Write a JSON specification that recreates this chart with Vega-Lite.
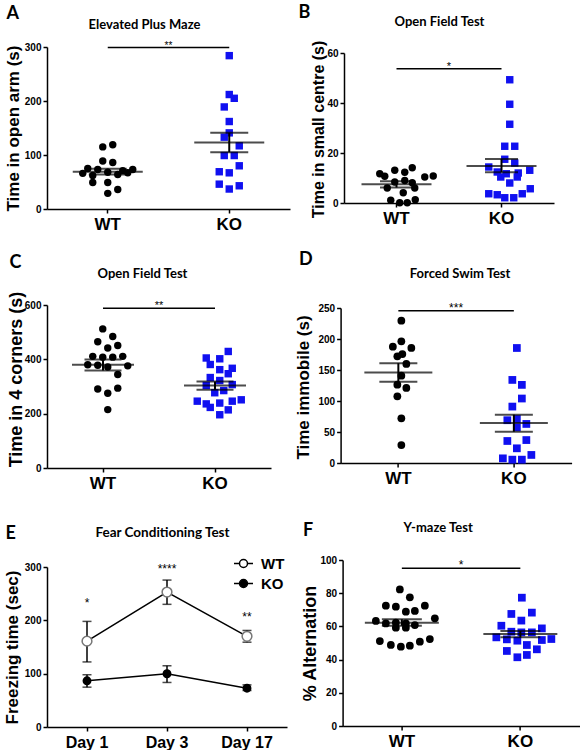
{
  "$schema": "https://vega.github.io/schema/vega-lite/v6.json",
  "padding": {"left": 3, "top": 3, "right": 0, "bottom": 0},
  "background": "white",
  "config": {
    "view": {"stroke": null},
    "font": "Liberation Sans",
    "axis": {
      "grid": false, "domainColor": "black", "domainWidth": 1.5, "tickColor": "black", "tickWidth": 1.5, "tickSize": 4,
      "labelColor": "black", "titleColor": "black", "labelFont": "Liberation Sans", "titleFont": "Liberation Sans",
      "labelFontWeight": "bold", "titleFontWeight": "bold", "labelFontSize": 10, "titleFontSize": 17, "labelPadding": 2,
      "labelOverlap": false
    }
  },
  "resolve": {"legend": {"fill": "independent"}},
  "datasets": {
    "pts": [
      {"panel":"A","group":"WT","value":119,"slot":1},{"panel":"A","group":"WT","value":115,"slot":-1},
      {"panel":"A","group":"WT","value":89,"slot":-1},{"panel":"A","group":"WT","value":86,"slot":1},
      {"panel":"A","group":"WT","value":66,"slot":-5},{"panel":"A","group":"WT","value":75,"slot":-4},
      {"panel":"A","group":"WT","value":73,"slot":-2},{"panel":"A","group":"WT","value":62,"slot":-3},
      {"panel":"A","group":"WT","value":68,"slot":0},{"panel":"A","group":"WT","value":64,"slot":2},
      {"panel":"A","group":"WT","value":71,"slot":3},{"panel":"A","group":"WT","value":67,"slot":4},
      {"panel":"A","group":"WT","value":73,"slot":5},{"panel":"A","group":"WT","value":49,"slot":-3},
      {"panel":"A","group":"WT","value":49,"slot":0},{"panel":"A","group":"WT","value":36,"slot":2},
      {"panel":"A","group":"WT","value":29,"slot":0},
      {"panel":"A","group":"KO","value":284,"slot":0},{"panel":"A","group":"KO","value":212,"slot":0},
      {"panel":"A","group":"KO","value":205,"slot":1},{"panel":"A","group":"KO","value":189,"slot":-1},
      {"panel":"A","group":"KO","value":162,"slot":0},{"panel":"A","group":"KO","value":141,"slot":0},
      {"panel":"A","group":"KO","value":133,"slot":-1},{"panel":"A","group":"KO","value":117,"slot":2},
      {"panel":"A","group":"KO","value":99,"slot":-1},{"panel":"A","group":"KO","value":99,"slot":1},
      {"panel":"A","group":"KO","value":80,"slot":2},{"panel":"A","group":"KO","value":69,"slot":-2},
      {"panel":"A","group":"KO","value":67,"slot":0},{"panel":"A","group":"KO","value":46,"slot":-2},
      {"panel":"A","group":"KO","value":43,"slot":2},{"panel":"A","group":"KO","value":37,"slot":0},

      {"panel":"B","group":"WT","value":11.7,"slot":-5},{"panel":"B","group":"WT","value":10.7,"slot":-4},
      {"panel":"B","group":"WT","value":13.1,"slot":-2},{"panel":"B","group":"WT","value":12.3,"slot":0},
      {"panel":"B","group":"WT","value":14.1,"slot":1.5},{"panel":"B","group":"WT","value":10.4,"slot":4},
      {"panel":"B","group":"WT","value":10.8,"slot":5.7},{"panel":"B","group":"WT","value":8.4,"slot":-2},
      {"panel":"B","group":"WT","value":9,"slot":0},{"panel":"B","group":"WT","value":8.1,"slot":1.5},
      {"panel":"B","group":"WT","value":6,"slot":-3.5},{"panel":"B","group":"WT","value":4.1,"slot":-0.3},
      {"panel":"B","group":"WT","value":6,"slot":2},{"panel":"B","group":"WT","value":1.1,"slot":-2.8},
      {"panel":"B","group":"WT","value":0.1,"slot":-1},{"panel":"B","group":"WT","value":0.1,"slot":0.5},
      {"panel":"B","group":"WT","value":1.3,"slot":2.1},
      {"panel":"B","group":"KO","value":49.3,"slot":0},{"panel":"B","group":"KO","value":39.5,"slot":0},
      {"panel":"B","group":"KO","value":31.5,"slot":0},{"panel":"B","group":"KO","value":22.7,"slot":-1},
      {"panel":"B","group":"KO","value":22.7,"slot":1},{"panel":"B","group":"KO","value":17.5,"slot":-1},
      {"panel":"B","group":"KO","value":16,"slot":1},{"panel":"B","group":"KO","value":14.4,"slot":-4.2},
      {"panel":"B","group":"KO","value":12.4,"slot":-2.5},{"panel":"B","group":"KO","value":11.7,"slot":-0.7},
      {"panel":"B","group":"KO","value":12,"slot":1.7},{"panel":"B","group":"KO","value":13.1,"slot":4},
      {"panel":"B","group":"KO","value":10.4,"slot":-1.8},{"panel":"B","group":"KO","value":10.4,"slot":1.5},
      {"panel":"B","group":"KO","value":8,"slot":0},{"panel":"B","group":"KO","value":5.7,"slot":4.1},
      {"panel":"B","group":"KO","value":3.7,"slot":-4.2},{"panel":"B","group":"KO","value":3.3,"slot":-2.5},
      {"panel":"B","group":"KO","value":2.1,"slot":-1},{"panel":"B","group":"KO","value":2.1,"slot":0.8},
      {"panel":"B","group":"KO","value":3.7,"slot":2.5},

      {"panel":"C","group":"WT","value":512,"slot":-1},{"panel":"C","group":"WT","value":484,"slot":1},
      {"panel":"C","group":"WT","value":465,"slot":-2},{"panel":"C","group":"WT","value":451,"slot":2},
      {"panel":"C","group":"WT","value":442,"slot":0},{"panel":"C","group":"WT","value":411,"slot":-3},
      {"panel":"C","group":"WT","value":408,"slot":-1},{"panel":"C","group":"WT","value":408,"slot":1},
      {"panel":"C","group":"WT","value":411,"slot":3},{"panel":"C","group":"WT","value":380,"slot":-4},
      {"panel":"C","group":"WT","value":378,"slot":-2},{"panel":"C","group":"WT","value":372,"slot":0},
      {"panel":"C","group":"WT","value":376,"slot":4},{"panel":"C","group":"WT","value":344,"slot":2},
      {"panel":"C","group":"WT","value":291,"slot":-2},{"panel":"C","group":"WT","value":294,"slot":2},
      {"panel":"C","group":"WT","value":275,"slot":0},{"panel":"C","group":"WT","value":215,"slot":0},
      {"panel":"C","group":"KO","value":429,"slot":1.7},{"panel":"C","group":"KO","value":405,"slot":-2.7},
      {"panel":"C","group":"KO","value":402,"slot":0},{"panel":"C","group":"KO","value":381,"slot":-1.9},
      {"panel":"C","group":"KO","value":362,"slot":0},{"panel":"C","group":"KO","value":367,"slot":2.5},
      {"panel":"C","group":"KO","value":347,"slot":1.7},{"panel":"C","group":"KO","value":333,"slot":-1.9},
      {"panel":"C","group":"KO","value":304,"slot":-2.7},{"panel":"C","group":"KO","value":322,"slot":0},
      {"panel":"C","group":"KO","value":307,"slot":2.5},{"panel":"C","group":"KO","value":277,"slot":-1},
      {"panel":"C","group":"KO","value":285,"slot":0.8},{"panel":"C","group":"KO","value":246,"slot":-4.5},
      {"panel":"C","group":"KO","value":236,"slot":-2.7},{"panel":"C","group":"KO","value":239,"slot":0},
      {"panel":"C","group":"KO","value":246,"slot":2.5},{"panel":"C","group":"KO","value":251,"slot":4.3},
      {"panel":"C","group":"KO","value":223,"slot":-1.9},{"panel":"C","group":"KO","value":214,"slot":1.7},
      {"panel":"C","group":"KO","value":196,"slot":0},

      {"panel":"D","group":"WT","value":229.6,"slot":0},{"panel":"D","group":"WT","value":187.6,"slot":-1.7},
      {"panel":"D","group":"WT","value":196.2,"slot":0},{"panel":"D","group":"WT","value":185.5,"slot":2},
      {"panel":"D","group":"WT","value":172,"slot":-0.8},{"panel":"D","group":"WT","value":175.8,"slot":0.2},
      {"panel":"D","group":"WT","value":159.7,"slot":1},{"panel":"D","group":"WT","value":140.9,"slot":0},
      {"panel":"D","group":"WT","value":126.3,"slot":-0.8},{"panel":"D","group":"WT","value":121,"slot":1},
      {"panel":"D","group":"WT","value":107.5,"slot":-0.8},{"panel":"D","group":"WT","value":72,"slot":0},
      {"panel":"D","group":"WT","value":29,"slot":0},
      {"panel":"D","group":"KO","value":185.5,"slot":0},{"panel":"D","group":"KO","value":134,"slot":-0.9},
      {"panel":"D","group":"KO","value":126,"slot":1},{"panel":"D","group":"KO","value":104,"slot":1},
      {"panel":"D","group":"KO","value":91,"slot":-0.9},{"panel":"D","group":"KO","value":69,"slot":-1.9},
      {"panel":"D","group":"KO","value":71,"slot":0},{"panel":"D","group":"KO","value":57.5,"slot":0},
      {"panel":"D","group":"KO","value":63,"slot":1.9},{"panel":"D","group":"KO","value":35.5,"slot":-1.9},
      {"panel":"D","group":"KO","value":37,"slot":1.9},{"panel":"D","group":"KO","value":23.7,"slot":0},
      {"panel":"D","group":"KO","value":13,"slot":2.9},{"panel":"D","group":"KO","value":7.5,"slot":-2.8},
      {"panel":"D","group":"KO","value":5.4,"slot":-0.9},{"panel":"D","group":"KO","value":5.4,"slot":1},

      {"panel":"F","group":"WT","value":82.3,"slot":-0.7},{"panel":"F","group":"WT","value":77.5,"slot":1.3},
      {"panel":"F","group":"WT","value":72.5,"slot":-3.5},{"panel":"F","group":"WT","value":71.9,"slot":-1.5},
      {"panel":"F","group":"WT","value":68.9,"slot":0.5},{"panel":"F","group":"WT","value":69.3,"slot":2.3},
      {"panel":"F","group":"WT","value":72.5,"slot":4.3},{"panel":"F","group":"WT","value":63.3,"slot":-5.5},
      {"panel":"F","group":"WT","value":61.8,"slot":-3.5},{"panel":"F","group":"WT","value":62.2,"slot":-1.5},
      {"panel":"F","group":"WT","value":61.8,"slot":0.5},{"panel":"F","group":"WT","value":60.8,"slot":2.3},
      {"panel":"F","group":"WT","value":64.9,"slot":6.3},{"panel":"F","group":"WT","value":59.2,"slot":-1.5},
      {"panel":"F","group":"WT","value":59.2,"slot":0.5},{"panel":"F","group":"WT","value":51.2,"slot":-4.7},
      {"panel":"F","group":"WT","value":48.8,"slot":-2.5},{"panel":"F","group":"WT","value":47.8,"slot":-0.5},
      {"panel":"F","group":"WT","value":48.4,"slot":1.3},{"panel":"F","group":"WT","value":50.8,"slot":3.3},
      {"panel":"F","group":"WT","value":52.4,"slot":5.3},
      {"panel":"F","group":"KO","value":77.3,"slot":0},{"panel":"F","group":"KO","value":67.5,"slot":-2.1},
      {"panel":"F","group":"KO","value":68.3,"slot":2},{"panel":"F","group":"KO","value":63.5,"slot":-0.1},
      {"panel":"F","group":"KO","value":60.4,"slot":-4.1},{"panel":"F","group":"KO","value":56.8,"slot":-2.1},
      {"panel":"F","group":"KO","value":56.4,"slot":-0.1},{"panel":"F","group":"KO","value":56.4,"slot":2},
      {"panel":"F","group":"KO","value":58.8,"slot":4},{"panel":"F","group":"KO","value":53.4,"slot":-5.1},
      {"panel":"F","group":"KO","value":52.2,"slot":-3},{"panel":"F","group":"KO","value":51.4,"slot":-0.9},
      {"panel":"F","group":"KO","value":51.8,"slot":4},{"panel":"F","group":"KO","value":52.4,"slot":5.9},
      {"panel":"F","group":"KO","value":48.8,"slot":1},{"panel":"F","group":"KO","value":45.2,"slot":-3},
      {"panel":"F","group":"KO","value":46.2,"slot":3},{"panel":"F","group":"KO","value":41.4,"slot":-0.9},
      {"panel":"F","group":"KO","value":42.8,"slot":1}
    ],
    "sum": [
      {"panel":"A","group":"WT","value":69,"lo":64,"hi":74.5},{"panel":"A","group":"KO","value":123,"lo":105,"hi":141},
      {"panel":"B","group":"WT","value":7.5,"lo":6.2,"hi":8.7},{"panel":"B","group":"KO","value":14.8,"lo":12.3,"hi":17.6},
      {"panel":"C","group":"WT","value":380,"lo":359,"hi":399},{"panel":"C","group":"KO","value":304,"lo":288,"hi":318},
      {"panel":"D","group":"WT","value":146,"lo":131,"hi":161},{"panel":"D","group":"KO","value":64.5,"lo":50.5,"hi":78},
      {"panel":"F","group":"WT","value":62.2,"lo":60.4,"hi":64.3},{"panel":"F","group":"KO","value":55.4,"lo":53.4,"hi":57.2}
    ],
    "sig": [
      {"panel":"A","g1":"WT","g2":"KO","value":299,"label":"**"},
      {"panel":"B","g1":"WT","g2":"KO","value":53.7,"label":"*"},
      {"panel":"C","g1":"WT","g2":"KO","value":588,"label":"**"},
      {"panel":"D","g1":"WT","g2":"KO","value":245.7,"label":"***"},
      {"panel":"F","g1":"WT","g2":"KO","value":95,"label":"*"}
    ],
    "fear": [
      {"day":"Day 1","group":"WT","value":161,"lo":122,"hi":198},
      {"day":"Day 3","group":"WT","value":253,"lo":230,"hi":275.5},
      {"day":"Day 17","group":"WT","value":170,"lo":159,"hi":181},
      {"day":"Day 1","group":"KO","value":86.6,"lo":74.7,"hi":98},
      {"day":"Day 3","group":"KO","value":99.8,"lo":83.5,"hi":114.8},
      {"day":"Day 17","group":"KO","value":72.8,"lo":68.4,"hi":79}
    ],
    "fsig": [
      {"day":"Day 1","value":239,"label":"*"},
      {"day":"Day 3","value":302,"label":"****"},
      {"day":"Day 17","value":211,"label":"**"}
    ]
  },
  "spacing": 18,
  "vconcat": [
    {
      "spacing": 8,
      "hconcat": [
        {
          "width": 243, "height": 162,
          "resolve": {"axis": {"x": "independent"}},
          "layer": [
            {"data": {"name": "pts"}, "transform": [{"filter": {"field": "panel", "equal": "A"}}],
             "mark": {"type": "point", "filled": true, "size": 55, "opacity": 1},
             "encoding": {
               "x": {"field": "group", "type": "nominal", "scale": {"domain": ["WT","KO"], "paddingInner": 0, "paddingOuter": 0}, "axis": {"title": null, "labelAngle": 0, "labelFontSize": 17, "labelPadding": 3}},
               "xOffset": {"field": "slot", "type": "quantitative", "scale": {"domain": [-12.15, 12.15], "nice": false, "zero": false}},
               "y": {"field": "value", "type": "quantitative", "scale": {"domain": [0, 300]}, "axis": {"title": "Time in open arm (s)", "values": [0,100,200,300], "labelOverlap": false, "titleFontSize": 17, "titleX": -29, "titleBaseline": "alphabetic"}},
               "shape": {"field": "group", "type": "nominal", "scale": {"domain": ["WT","KO"], "range": ["circle","square"]}, "legend": null},
               "color": {"field": "group", "type": "nominal", "scale": {"domain": ["WT","KO"], "range": ["#000000","#1010f0"]}, "legend": null}
             }},
            {"data": {"name": "sum"}, "transform": [{"filter": {"field": "panel", "equal": "A"}}],
             "mark": {"type": "tick", "color": "black", "thickness": 2, "size": 70},
             "encoding": {"x": {"field": "group", "type": "nominal", "scale": {"domain": ["WT","KO"], "paddingInner": 0, "paddingOuter": 0}, "axis": null},
                          "y": {"field": "value", "type": "quantitative", "scale": {"domain": [0, 300]}}}},
            {"data": {"name": "sum"}, "transform": [{"filter": {"field": "panel", "equal": "A"}}],
             "mark": {"type": "rule", "color": "black", "strokeWidth": 2},
             "encoding": {"x": {"field": "group", "type": "nominal", "scale": {"domain": ["WT","KO"], "paddingInner": 0, "paddingOuter": 0}, "axis": null},
                          "y": {"field": "lo", "type": "quantitative", "scale": {"domain": [0, 300]}}, "y2": {"field": "hi"}}},
            {"data": {"name": "sum"}, "transform": [{"filter": {"field": "panel", "equal": "A"}}],
             "mark": {"type": "tick", "color": "black", "thickness": 2, "size": 38},
             "encoding": {"x": {"field": "group", "type": "nominal", "scale": {"domain": ["WT","KO"], "paddingInner": 0, "paddingOuter": 0}, "axis": null},
                          "y": {"field": "lo", "type": "quantitative", "scale": {"domain": [0, 300]}}}},
            {"data": {"name": "sum"}, "transform": [{"filter": {"field": "panel", "equal": "A"}}],
             "mark": {"type": "tick", "color": "black", "thickness": 2, "size": 38},
             "encoding": {"x": {"field": "group", "type": "nominal", "scale": {"domain": ["WT","KO"], "paddingInner": 0, "paddingOuter": 0}, "axis": null},
                          "y": {"field": "hi", "type": "quantitative", "scale": {"domain": [0, 300]}}}},
            {"data": {"name": "sig"}, "transform": [{"filter": {"field": "panel", "equal": "A"}}],
             "mark": {"type": "rule", "color": "black", "strokeWidth": 1.5},
             "encoding": {"x": {"field": "g1", "type": "nominal", "scale": {"domain": ["WT","KO"], "paddingInner": 0, "paddingOuter": 0},
                                "axis": {"orient": "top", "title": "A", "domain": false, "ticks": false, "labels": false, "titleFont": "Lato", "titleFontSize": 18, "titleAngle": 0, "titleAlign": "left", "titleBaseline": "alphabetic", "titleX": -41, "titleY": -29}},
                          "x2": {"field": "g2"},
                          "y": {"field": "value", "type": "quantitative", "scale": {"domain": [0, 300]}}}},
            {"data": {"name": "sig"}, "transform": [{"filter": {"field": "panel", "equal": "A"}}],
             "mark": {"type": "text", "fontSize": 10, "baseline": "alphabetic", "dy": 1, "color": "black"},
             "encoding": {"x": {"field": "g2", "type": "nominal", "bandPosition": 0, "scale": {"domain": ["WT","KO"], "paddingInner": 0, "paddingOuter": 0},
                                "axis": {"orient": "top", "title": "Elevated Plus Maze", "domain": false, "ticks": false, "labels": false, "titleFont": "Lato", "titleFontSize": 13, "titleAngle": 0, "titleAlign": "center", "titleBaseline": "alphabetic", "titleX": 97, "titleY": -19}},
                          "y": {"field": "value", "type": "quantitative", "scale": {"domain": [0, 300]}},
                          "text": {"field": "label"}}}
          ]
        },
        {
          "width": 210, "height": 156,
          "resolve": {"axis": {"x": "independent"}},
          "layer": [
            {"data": {"name": "pts"}, "transform": [{"filter": {"field": "panel", "equal": "B"}}],
             "mark": {"type": "point", "filled": true, "size": 55, "opacity": 1},
             "encoding": {
               "x": {"field": "group", "type": "nominal", "scale": {"domain": ["WT","KO"], "paddingInner": 0, "paddingOuter": 0}, "axis": {"title": null, "labelAngle": 0, "labelFontSize": 17, "labelPadding": 3}},
               "xOffset": {"field": "slot", "type": "quantitative", "scale": {"domain": [-10.5, 10.5], "nice": false, "zero": false}},
               "y": {"field": "value", "type": "quantitative", "scale": {"domain": [0, 60], "range": [156, 6]}, "axis": {"title": "Time in small centre (s)", "values": [0,20,40,60], "labelOverlap": false, "titleFontSize": 16, "titleX": -21, "titleY": 82, "titleBaseline": "alphabetic"}},
               "shape": {"field": "group", "type": "nominal", "scale": {"domain": ["WT","KO"], "range": ["circle","square"]}, "legend": null},
               "color": {"field": "group", "type": "nominal", "scale": {"domain": ["WT","KO"], "range": ["#000000","#1010f0"]}, "legend": null}
             }},
            {"data": {"name": "sum"}, "transform": [{"filter": {"field": "panel", "equal": "B"}}],
             "mark": {"type": "tick", "color": "black", "thickness": 2, "size": 70},
             "encoding": {"x": {"field": "group", "type": "nominal", "scale": {"domain": ["WT","KO"], "paddingInner": 0, "paddingOuter": 0}, "axis": null},
                          "y": {"field": "value", "type": "quantitative", "scale": {"domain": [0, 60], "range": [156, 6]}}}},
            {"data": {"name": "sum"}, "transform": [{"filter": {"field": "panel", "equal": "B"}}],
             "mark": {"type": "rule", "color": "black", "strokeWidth": 2},
             "encoding": {"x": {"field": "group", "type": "nominal", "scale": {"domain": ["WT","KO"], "paddingInner": 0, "paddingOuter": 0}, "axis": null},
                          "y": {"field": "lo", "type": "quantitative", "scale": {"domain": [0, 60], "range": [156, 6]}}, "y2": {"field": "hi"}}},
            {"data": {"name": "sum"}, "transform": [{"filter": {"field": "panel", "equal": "B"}}],
             "mark": {"type": "tick", "color": "black", "thickness": 2, "size": 33},
             "encoding": {"x": {"field": "group", "type": "nominal", "scale": {"domain": ["WT","KO"], "paddingInner": 0, "paddingOuter": 0}, "axis": null},
                          "y": {"field": "lo", "type": "quantitative", "scale": {"domain": [0, 60], "range": [156, 6]}}}},
            {"data": {"name": "sum"}, "transform": [{"filter": {"field": "panel", "equal": "B"}}],
             "mark": {"type": "tick", "color": "black", "thickness": 2, "size": 33},
             "encoding": {"x": {"field": "group", "type": "nominal", "scale": {"domain": ["WT","KO"], "paddingInner": 0, "paddingOuter": 0}, "axis": null},
                          "y": {"field": "hi", "type": "quantitative", "scale": {"domain": [0, 60], "range": [156, 6]}}}},
            {"data": {"name": "sig"}, "transform": [{"filter": {"field": "panel", "equal": "B"}}],
             "mark": {"type": "rule", "color": "black", "strokeWidth": 1.5},
             "encoding": {"x": {"field": "g1", "type": "nominal", "scale": {"domain": ["WT","KO"], "paddingInner": 0, "paddingOuter": 0},
                                "axis": {"orient": "top", "title": "B", "domain": false, "ticks": false, "labels": false, "titleFont": "Lato", "titleFontSize": 18, "titleAngle": 0, "titleAlign": "left", "titleBaseline": "alphabetic", "titleX": -46, "titleY": -30}},
                          "x2": {"field": "g2"},
                          "y": {"field": "value", "type": "quantitative", "scale": {"domain": [0, 60], "range": [156, 6]}}}},
            {"data": {"name": "sig"}, "transform": [{"filter": {"field": "panel", "equal": "B"}}],
             "mark": {"type": "text", "fontSize": 11, "baseline": "alphabetic", "dy": 1, "color": "black"},
             "encoding": {"x": {"field": "g2", "type": "nominal", "bandPosition": 0, "scale": {"domain": ["WT","KO"], "paddingInner": 0, "paddingOuter": 0},
                                "axis": {"orient": "top", "title": "Open Field Test", "domain": false, "ticks": false, "labels": false, "titleFont": "Lato", "titleFontSize": 13, "titleAngle": 0, "titleAlign": "center", "titleBaseline": "alphabetic", "titleX": 95, "titleY": -22}},
                          "y": {"field": "value", "type": "quantitative", "scale": {"domain": [0, 60], "range": [156, 6]}},
                          "text": {"field": "label"}}}
          ]
        }
      ]
    },
    {
      "spacing": 30,
      "resolve": {"legend": {"fill": "independent"}},
      "vconcat": [
        {
          "spacing": 23.6,
          "hconcat": [
            {
              "width": 224, "height": 163,
              "resolve": {"axis": {"x": "independent"}},
              "layer": [
                {"data": {"name": "pts"}, "transform": [{"filter": {"field": "panel", "equal": "C"}}],
                 "mark": {"type": "point", "filled": true, "size": 55, "opacity": 1},
                 "encoding": {
                   "x": {"field": "group", "type": "nominal", "scale": {"domain": ["WT","KO"], "paddingInner": 0, "paddingOuter": 0}, "axis": {"title": null, "labelAngle": 0, "labelFontSize": 17, "labelPadding": 3}},
                   "xOffset": {"field": "slot", "type": "quantitative", "scale": {"domain": [-11.2, 11.2], "nice": false, "zero": false}},
                   "y": {"field": "value", "type": "quantitative", "scale": {"domain": [0, 600]}, "axis": {"title": "Time in 4 corners (s)", "values": [0,200,400,600], "labelOverlap": false, "titleFontSize": 18, "titleX": -26, "titleY": 74, "titleBaseline": "alphabetic"}},
                   "shape": {"field": "group", "type": "nominal", "scale": {"domain": ["WT","KO"], "range": ["circle","square"]}, "legend": null},
                   "color": {"field": "group", "type": "nominal", "scale": {"domain": ["WT","KO"], "range": ["#000000","#1010f0"]}, "legend": null}
                 }},
                {"data": {"name": "sum"}, "transform": [{"filter": {"field": "panel", "equal": "C"}}],
                 "mark": {"type": "tick", "color": "black", "thickness": 2, "size": 62},
                 "encoding": {"x": {"field": "group", "type": "nominal", "scale": {"domain": ["WT","KO"], "paddingInner": 0, "paddingOuter": 0}, "axis": null},
                              "y": {"field": "value", "type": "quantitative", "scale": {"domain": [0, 600]}}}},
                {"data": {"name": "sum"}, "transform": [{"filter": {"field": "panel", "equal": "C"}}],
                 "mark": {"type": "rule", "color": "black", "strokeWidth": 2},
                 "encoding": {"x": {"field": "group", "type": "nominal", "scale": {"domain": ["WT","KO"], "paddingInner": 0, "paddingOuter": 0}, "axis": null},
                              "y": {"field": "lo", "type": "quantitative", "scale": {"domain": [0, 600]}}, "y2": {"field": "hi"}}},
                {"data": {"name": "sum"}, "transform": [{"filter": {"field": "panel", "equal": "C"}}],
                 "mark": {"type": "tick", "color": "black", "thickness": 2, "size": 37},
                 "encoding": {"x": {"field": "group", "type": "nominal", "scale": {"domain": ["WT","KO"], "paddingInner": 0, "paddingOuter": 0}, "axis": null},
                              "y": {"field": "lo", "type": "quantitative", "scale": {"domain": [0, 600]}}}},
                {"data": {"name": "sum"}, "transform": [{"filter": {"field": "panel", "equal": "C"}}],
                 "mark": {"type": "tick", "color": "black", "thickness": 2, "size": 37},
                 "encoding": {"x": {"field": "group", "type": "nominal", "scale": {"domain": ["WT","KO"], "paddingInner": 0, "paddingOuter": 0}, "axis": null},
                              "y": {"field": "hi", "type": "quantitative", "scale": {"domain": [0, 600]}}}},
                {"data": {"name": "sig"}, "transform": [{"filter": {"field": "panel", "equal": "C"}}],
                 "mark": {"type": "rule", "color": "black", "strokeWidth": 1.5},
                 "encoding": {"x": {"field": "g1", "type": "nominal", "scale": {"domain": ["WT","KO"], "paddingInner": 0, "paddingOuter": 0},
                                    "axis": {"orient": "top", "title": "C", "domain": false, "ticks": false, "labels": false, "titleFont": "Lato", "titleFontSize": 18, "titleAngle": 0, "titleAlign": "left", "titleBaseline": "alphabetic", "titleX": -38, "titleY": -38}},
                              "x2": {"field": "g2"},
                              "y": {"field": "value", "type": "quantitative", "scale": {"domain": [0, 600]}}}},
                {"data": {"name": "sig"}, "transform": [{"filter": {"field": "panel", "equal": "C"}}],
                 "mark": {"type": "text", "fontSize": 11, "baseline": "alphabetic", "dy": 1, "color": "black"},
                 "encoding": {"x": {"field": "g2", "type": "nominal", "bandPosition": 0, "scale": {"domain": ["WT","KO"], "paddingInner": 0, "paddingOuter": 0},
                                    "axis": {"orient": "top", "title": "Open Field Test", "domain": false, "ticks": false, "labels": false, "titleFont": "Lato", "titleFontSize": 13, "titleAngle": 0, "titleAlign": "center", "titleBaseline": "alphabetic", "titleX": 95, "titleY": -28}},
                              "y": {"field": "value", "type": "quantitative", "scale": {"domain": [0, 600]}},
                              "text": {"field": "label"}}}
              ]
            },
            {
              "width": 231, "height": 158,
              "resolve": {"axis": {"x": "independent"}},
              "layer": [
                {"data": {"name": "pts"}, "transform": [{"filter": {"field": "panel", "equal": "D"}}],
                 "mark": {"type": "point", "filled": true, "size": 60, "opacity": 1},
                 "encoding": {
                   "x": {"field": "group", "type": "nominal", "scale": {"domain": ["WT","KO"], "paddingInner": 0, "paddingOuter": 0}, "axis": {"title": null, "labelAngle": 0, "labelFontSize": 17, "labelPadding": 3}},
                   "xOffset": {"field": "slot", "type": "quantitative", "scale": {"domain": [-11.55, 11.55], "nice": false, "zero": false}},
                   "y": {"field": "value", "type": "quantitative", "scale": {"domain": [0, 250], "range": [158, 3]}, "axis": {"title": "Time immobile (s)", "values": [0,50,100,150,200,250], "labelOverlap": false, "titleFontSize": 17, "titleX": -32, "titleY": 82, "titleBaseline": "alphabetic"}},
                   "shape": {"field": "group", "type": "nominal", "scale": {"domain": ["WT","KO"], "range": ["circle","square"]}, "legend": null},
                   "color": {"field": "group", "type": "nominal", "scale": {"domain": ["WT","KO"], "range": ["#000000","#1010f0"]}, "legend": null}
                 }},
                {"data": {"name": "sum"}, "transform": [{"filter": {"field": "panel", "equal": "D"}}],
                 "mark": {"type": "tick", "color": "black", "thickness": 2, "size": 68},
                 "encoding": {"x": {"field": "group", "type": "nominal", "scale": {"domain": ["WT","KO"], "paddingInner": 0, "paddingOuter": 0}, "axis": null},
                              "y": {"field": "value", "type": "quantitative", "scale": {"domain": [0, 250], "range": [158, 3]}, "axis": {"title": "Time immobile (s)", "values": [0,50,100,150,200,250], "labelOverlap": false, "titleFontSize": 17, "titleX": -32, "titleY": 82, "titleBaseline": "alphabetic"}}}},
                {"data": {"name": "sum"}, "transform": [{"filter": {"field": "panel", "equal": "D"}}],
                 "mark": {"type": "rule", "color": "black", "strokeWidth": 2},
                 "encoding": {"x": {"field": "group", "type": "nominal", "scale": {"domain": ["WT","KO"], "paddingInner": 0, "paddingOuter": 0}, "axis": null},
                              "y": {"field": "lo", "type": "quantitative", "scale": {"domain": [0, 250], "range": [158, 3]}, "axis": {"title": "Time immobile (s)", "values": [0,50,100,150,200,250], "labelOverlap": false, "titleFontSize": 17, "titleX": -32, "titleY": 82, "titleBaseline": "alphabetic"}}, "y2": {"field": "hi"}}},
                {"data": {"name": "sum"}, "transform": [{"filter": {"field": "panel", "equal": "D"}}],
                 "mark": {"type": "tick", "color": "black", "thickness": 2, "size": 38},
                 "encoding": {"x": {"field": "group", "type": "nominal", "scale": {"domain": ["WT","KO"], "paddingInner": 0, "paddingOuter": 0}, "axis": null},
                              "y": {"field": "lo", "type": "quantitative", "scale": {"domain": [0, 250], "range": [158, 3]}, "axis": {"title": "Time immobile (s)", "values": [0,50,100,150,200,250], "labelOverlap": false, "titleFontSize": 17, "titleX": -32, "titleY": 82, "titleBaseline": "alphabetic"}}}},
                {"data": {"name": "sum"}, "transform": [{"filter": {"field": "panel", "equal": "D"}}],
                 "mark": {"type": "tick", "color": "black", "thickness": 2, "size": 38},
                 "encoding": {"x": {"field": "group", "type": "nominal", "scale": {"domain": ["WT","KO"], "paddingInner": 0, "paddingOuter": 0}, "axis": null},
                              "y": {"field": "hi", "type": "quantitative", "scale": {"domain": [0, 250], "range": [158, 3]}, "axis": {"title": "Time immobile (s)", "values": [0,50,100,150,200,250], "labelOverlap": false, "titleFontSize": 17, "titleX": -32, "titleY": 82, "titleBaseline": "alphabetic"}}}},
                {"data": {"name": "sig"}, "transform": [{"filter": {"field": "panel", "equal": "D"}}],
                 "mark": {"type": "rule", "color": "black", "strokeWidth": 1.5},
                 "encoding": {"x": {"field": "g1", "type": "nominal", "scale": {"domain": ["WT","KO"], "paddingInner": 0, "paddingOuter": 0},
                                    "axis": {"orient": "top", "title": "D", "domain": false, "ticks": false, "labels": false, "titleFont": "Lato", "titleFontSize": 18, "titleAngle": 0, "titleAlign": "left", "titleBaseline": "alphabetic", "titleX": -42, "titleY": -41}},
                              "x2": {"field": "g2"},
                              "y": {"field": "value", "type": "quantitative", "scale": {"domain": [0, 250], "range": [158, 3]}, "axis": {"title": "Time immobile (s)", "values": [0,50,100,150,200,250], "labelOverlap": false, "titleFontSize": 17, "titleX": -32, "titleY": 82, "titleBaseline": "alphabetic"}}}},
                {"data": {"name": "sig"}, "transform": [{"filter": {"field": "panel", "equal": "D"}}],
                 "mark": {"type": "text", "fontSize": 12, "baseline": "alphabetic", "dy": 1, "color": "black"},
                 "encoding": {"x": {"field": "g2", "type": "nominal", "bandPosition": 0, "scale": {"domain": ["WT","KO"], "paddingInner": 0, "paddingOuter": 0},
                                    "axis": {"orient": "top", "title": "Forced Swim Test", "domain": false, "ticks": false, "labels": false, "titleFont": "Lato", "titleFontSize": 13, "titleAngle": 0, "titleAlign": "center", "titleBaseline": "alphabetic", "titleX": 119, "titleY": -28}},
                              "y": {"field": "value", "type": "quantitative", "scale": {"domain": [0, 250], "range": [158, 3]}, "axis": {"title": "Time immobile (s)", "values": [0,50,100,150,200,250], "labelOverlap": false, "titleFontSize": 17, "titleX": -32, "titleY": 82, "titleBaseline": "alphabetic"}},
                              "text": {"field": "label"}}}
              ]
            }
          ]
        },
        {
          "spacing": 14.6,
          "resolve": {"legend": {"fill": "independent"}},
          "hconcat": [
            {
              "width": 240, "height": 167,
              "resolve": {"axis": {"x": "independent"}},
              "layer": [
                {"data": {"name": "fear"},
                 "mark": {"type": "line", "color": "black", "strokeWidth": 1.5},
                 "encoding": {
                   "x": {"field": "day", "type": "nominal", "scale": {"domain": ["Day 1","Day 3","Day 17"], "paddingInner": 0, "paddingOuter": 0}, "axis": {"title": null, "labelAngle": 0, "labelFontSize": 16, "labelPadding": 3}},
                   "y": {"field": "value", "type": "quantitative", "scale": {"domain": [0, 300], "range": [167, 7]}, "axis": {"title": "Freezing time (sec)", "values": [0,100,200,300], "labelOverlap": false, "titleFontSize": 17, "titleX": -30, "titleY": 87, "titleBaseline": "alphabetic"}},
                   "detail": {"field": "group", "type": "nominal"}
                 }},
                {"data": {"name": "fear"},
                 "mark": {"type": "rule", "color": "black", "strokeWidth": 1.5},
                 "encoding": {
                   "x": {"field": "day", "type": "nominal", "scale": {"domain": ["Day 1","Day 3","Day 17"], "paddingInner": 0, "paddingOuter": 0},
                         "axis": {"orient": "top", "title": "E", "domain": false, "ticks": false, "labels": false, "titleFont": "Lato", "titleFontSize": 18, "titleAngle": 0, "titleAlign": "left", "titleBaseline": "alphabetic", "titleX": -42, "titleY": -22}},
                   "y": {"field": "lo", "type": "quantitative", "scale": {"domain": [0, 300], "range": [167, 7]}}, "y2": {"field": "hi"},
                   "detail": {"field": "group", "type": "nominal"}
                 }},
                {"data": {"name": "fear"},
                 "mark": {"type": "tick", "color": "black", "thickness": 1.5, "size": 9},
                 "encoding": {
                   "x": {"field": "day", "type": "nominal", "scale": {"domain": ["Day 1","Day 3","Day 17"], "paddingInner": 0, "paddingOuter": 0}, "axis": null},
                   "y": {"field": "lo", "type": "quantitative", "scale": {"domain": [0, 300], "range": [167, 7]}}
                 }},
                {"data": {"name": "fear"},
                 "mark": {"type": "tick", "color": "black", "thickness": 1.5, "size": 9},
                 "encoding": {
                   "x": {"field": "day", "type": "nominal", "scale": {"domain": ["Day 1","Day 3","Day 17"], "paddingInner": 0, "paddingOuter": 0}, "axis": null},
                   "y": {"field": "hi", "type": "quantitative", "scale": {"domain": [0, 300], "range": [167, 7]}}
                 }},
                {"data": {"name": "fear"},
                 "mark": {"type": "point", "shape": "circle", "strokeWidth": 1.5, "opacity": 1, "fillOpacity": 1},
                 "encoding": {
                   "x": {"field": "day", "type": "nominal", "scale": {"domain": ["Day 1","Day 3","Day 17"], "paddingInner": 0, "paddingOuter": 0}, "axis": null},
                   "y": {"field": "value", "type": "quantitative", "scale": {"domain": [0, 300], "range": [167, 7]}},
                   "fill": {"field": "group", "type": "nominal", "scale": {"domain": ["WT","KO"], "range": ["#ffffff","#000000"]},
                            "legend": {"title": null, "orient": "none", "legendX": 186, "legendY": -7, "padding": 0,
                                       "symbolType": "M-1,0L-0.42,0M0.42,0L1,0M0.42,0A0.42,0.42,0,1,1,-0.42,0A0.42,0.42,0,1,1,0.42,0Z",
                                       "symbolSize": 361, "symbolStrokeColor": "black", "symbolStrokeWidth": 1.5, "symbolOpacity": 1,
                                       "labelFont": "Liberation Sans", "labelFontWeight": "bold", "labelFontSize": 15, "labelColor": "black",
                                       "labelOffset": 7, "rowPadding": 1}},
                   "stroke": {"field": "group", "type": "nominal", "scale": {"domain": ["WT","KO"], "range": ["#777777","#000000"]}, "legend": null},
                   "size": {"field": "group", "type": "nominal", "scale": {"domain": ["WT","KO"], "range": [95, 55]}, "legend": null}
                 }},
                {"data": {"name": "fsig"},
                 "mark": {"type": "text", "fontSize": 12, "baseline": "middle", "dy": 3, "color": "black"},
                 "encoding": {
                   "x": {"field": "day", "type": "nominal", "scale": {"domain": ["Day 1","Day 3","Day 17"], "paddingInner": 0, "paddingOuter": 0},
                         "axis": {"orient": "top", "title": "Fear Conditioning Test", "domain": false, "ticks": false, "labels": false, "titleFont": "Lato", "titleFontSize": 13.5, "titleAngle": 0, "titleAlign": "center", "titleBaseline": "alphabetic", "titleX": 115, "titleY": -24}},
                   "y": {"field": "value", "type": "quantitative", "scale": {"domain": [0, 300], "range": [167, 7]}},
                   "text": {"field": "label"}
                 }}
              ]
            },
            {
              "width": 237, "height": 166,
              "resolve": {"axis": {"x": "independent"}},
              "layer": [
                {"data": {"name": "pts"}, "transform": [{"filter": {"field": "panel", "equal": "F"}}],
                 "mark": {"type": "point", "filled": true, "size": 60, "opacity": 1},
                 "encoding": {
                   "x": {"field": "group", "type": "nominal", "scale": {"domain": ["WT","KO"], "paddingInner": 0, "paddingOuter": 0}, "axis": {"title": null, "labelAngle": 0, "labelFontSize": 17, "labelPadding": 3}},
                   "xOffset": {"field": "slot", "type": "quantitative", "scale": {"domain": [-11.85, 11.85], "nice": false, "zero": false}},
                   "y": {"field": "value", "type": "quantitative", "scale": {"domain": [0, 100]}, "axis": {"title": "% Alternation", "values": [0,20,40,60,80,100], "labelOverlap": false, "titleFontSize": 18, "titleX": -27, "titleBaseline": "alphabetic"}},
                   "shape": {"field": "group", "type": "nominal", "scale": {"domain": ["WT","KO"], "range": ["circle","square"]}, "legend": null},
                   "color": {"field": "group", "type": "nominal", "scale": {"domain": ["WT","KO"], "range": ["#000000","#1010f0"]}, "legend": null}
                 }},
                {"data": {"name": "sum"}, "transform": [{"filter": {"field": "panel", "equal": "F"}}],
                 "mark": {"type": "tick", "color": "black", "thickness": 2, "size": 74},
                 "encoding": {"x": {"field": "group", "type": "nominal", "scale": {"domain": ["WT","KO"], "paddingInner": 0, "paddingOuter": 0}, "axis": null},
                              "y": {"field": "value", "type": "quantitative", "scale": {"domain": [0, 100]}, "axis": {"title": "% Alternation", "values": [0,20,40,60,80,100], "labelOverlap": false, "titleFontSize": 18, "titleX": -27, "titleBaseline": "alphabetic"}}}},
                {"data": {"name": "sum"}, "transform": [{"filter": {"field": "panel", "equal": "F"}}],
                 "mark": {"type": "rule", "color": "black", "strokeWidth": 2},
                 "encoding": {"x": {"field": "group", "type": "nominal", "scale": {"domain": ["WT","KO"], "paddingInner": 0, "paddingOuter": 0}, "axis": null},
                              "y": {"field": "lo", "type": "quantitative", "scale": {"domain": [0, 100]}, "axis": {"title": "% Alternation", "values": [0,20,40,60,80,100], "labelOverlap": false, "titleFontSize": 18, "titleX": -27, "titleBaseline": "alphabetic"}}, "y2": {"field": "hi"}}},
                {"data": {"name": "sum"}, "transform": [{"filter": {"field": "panel", "equal": "F"}}],
                 "mark": {"type": "tick", "color": "black", "thickness": 2, "size": 40},
                 "encoding": {"x": {"field": "group", "type": "nominal", "scale": {"domain": ["WT","KO"], "paddingInner": 0, "paddingOuter": 0}, "axis": null},
                              "y": {"field": "lo", "type": "quantitative", "scale": {"domain": [0, 100]}, "axis": {"title": "% Alternation", "values": [0,20,40,60,80,100], "labelOverlap": false, "titleFontSize": 18, "titleX": -27, "titleBaseline": "alphabetic"}}}},
                {"data": {"name": "sum"}, "transform": [{"filter": {"field": "panel", "equal": "F"}}],
                 "mark": {"type": "tick", "color": "black", "thickness": 2, "size": 40},
                 "encoding": {"x": {"field": "group", "type": "nominal", "scale": {"domain": ["WT","KO"], "paddingInner": 0, "paddingOuter": 0}, "axis": null},
                              "y": {"field": "hi", "type": "quantitative", "scale": {"domain": [0, 100]}, "axis": {"title": "% Alternation", "values": [0,20,40,60,80,100], "labelOverlap": false, "titleFontSize": 18, "titleX": -27, "titleBaseline": "alphabetic"}}}},
                {"data": {"name": "sig"}, "transform": [{"filter": {"field": "panel", "equal": "F"}}],
                 "mark": {"type": "rule", "color": "black", "strokeWidth": 1.5},
                 "encoding": {"x": {"field": "g1", "type": "nominal", "scale": {"domain": ["WT","KO"], "paddingInner": 0, "paddingOuter": 0},
                                    "axis": {"orient": "top", "title": "F", "domain": false, "ticks": false, "labels": false, "titleFont": "Lato", "titleFontSize": 18, "titleAngle": 0, "titleAlign": "left", "titleBaseline": "alphabetic", "titleX": -40, "titleY": -25}},
                              "x2": {"field": "g2"},
                              "y": {"field": "value", "type": "quantitative", "scale": {"domain": [0, 100]}, "axis": {"title": "% Alternation", "values": [0,20,40,60,80,100], "labelOverlap": false, "titleFontSize": 18, "titleX": -27, "titleBaseline": "alphabetic"}}}},
                {"data": {"name": "sig"}, "transform": [{"filter": {"field": "panel", "equal": "F"}}],
                 "mark": {"type": "text", "fontSize": 12, "baseline": "alphabetic", "dy": 1, "color": "black"},
                 "encoding": {"x": {"field": "g2", "type": "nominal", "bandPosition": 0, "scale": {"domain": ["WT","KO"], "paddingInner": 0, "paddingOuter": 0},
                                    "axis": {"orient": "top", "title": "Y-maze Test", "domain": false, "ticks": false, "labels": false, "titleFont": "Lato", "titleFontSize": 13, "titleAngle": 0, "titleAlign": "center", "titleBaseline": "alphabetic", "titleX": 95, "titleY": -29}},
                              "y": {"field": "value", "type": "quantitative", "scale": {"domain": [0, 100]}, "axis": {"title": "% Alternation", "values": [0,20,40,60,80,100], "labelOverlap": false, "titleFontSize": 18, "titleX": -27, "titleBaseline": "alphabetic"}},
                              "text": {"field": "label"}}}
              ]
            }
          ]
        }
      ]
    }
  ]
}
